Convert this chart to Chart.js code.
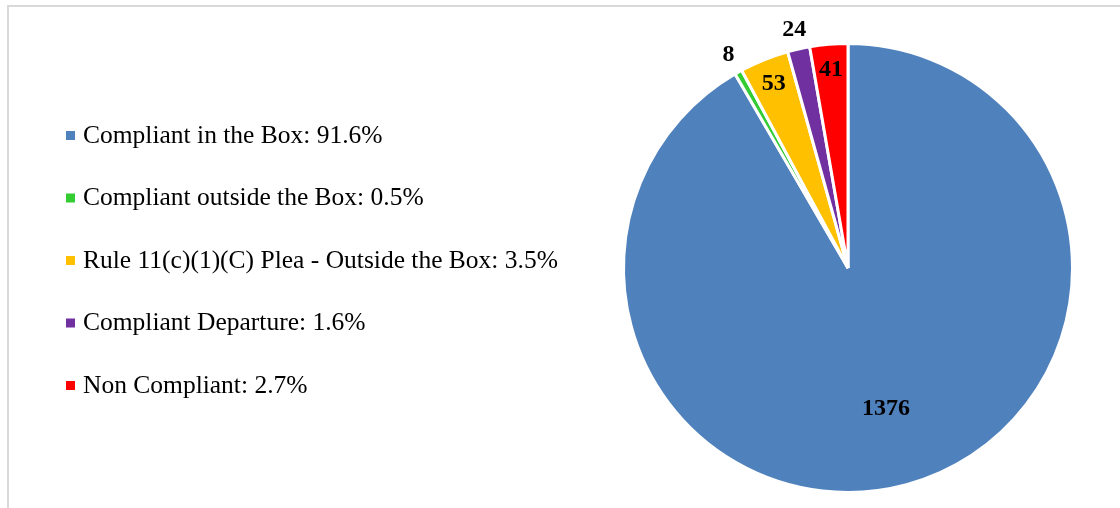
<!DOCTYPE html>
<html>
<head>
<meta charset="utf-8">
<script src="https://cdn.jsdelivr.net/npm/chart.js@4.4.1/dist/chart.umd.min.js"></script>
<style>
	body { margin: 0; background: #fff; }
	#frame { position: absolute; left: 7px; top: 5px; width: 1200px; height: 600px; border-left: 2px solid #d9d9d9; border-top: 2px solid #d9d9d9; }
	canvas { position: absolute; left: 0; top: 0; }
</style>
</head>
<body>
<div id="frame"></div>
<canvas id="grafico" width="1120" height="508"></canvas>
<script>
"use strict";

const categorie = [
	"Compliant in the Box",
	"Compliant outside the Box",
	"Rule 11(c)(1)(C) Plea - Outside the Box",
	"Compliant Departure",
	"Non Compliant"
];
const casi = [1376, 8, 53, 24, 41];
const colori = ["#4f81bd", "#33cc33", "#ffc000", "#7030a0", "#ff0000"];

const totale = casi.reduce((a, b) => a + b, 0);
const font = "'Liberation Serif', 'Times New Roman', serif";

// legenda a sinistra, quadratini + testo con la percentuale
const legendaSinistra = {
	id: "legendaSinistra",
	afterDraw(chart) {
		const ctx = chart.ctx;
		ctx.save();
		ctx.font = "25.5px " + font;
		ctx.textBaseline = "middle";
		ctx.textAlign = "left";
		for (let i = 0; i < categorie.length; i++) {
			const y = 135 + i * 62.5;
			ctx.fillStyle = colori[i];
			ctx.fillRect(66, y - 4, 9, 9);
			ctx.fillStyle = "#000";
			const perc = (casi[i] / totale * 100).toFixed(1);
			ctx.fillText(categorie[i] + ": " + perc + "%", 83, y + 1);
		}
		ctx.restore();
	}
};

// valori sulle fette: fuori se la fetta e' piccolissima
const etichette = {
	id: "etichette",
	afterDatasetsDraw(chart) {
		const ctx = chart.ctx;
		const meta = chart.getDatasetMeta(0);
		ctx.save();
		ctx.font = "bold 24px " + font;
		ctx.fillStyle = "#000";
		ctx.textAlign = "center";
		ctx.textBaseline = "middle";
		meta.data.forEach(function (arco, i) {
			const quota = casi[i] / totale;
			let r = arco.outerRadius * 0.885;
			if (quota > 0.5) r = arco.outerRadius * 0.65;
			else if (quota < 0.02) r = arco.outerRadius + 20;
			const a = (arco.startAngle + arco.endAngle) / 2;
			ctx.fillText(casi[i], arco.x + Math.cos(a) * r, arco.y + Math.sin(a) * r);
		});
		ctx.restore();
	}
};

new Chart(document.getElementById("grafico"), {
	type: "pie",
	data: {
		labels: categorie,
		datasets: [{
			data: casi,
			backgroundColor: colori,
			borderColor: "#ffffff",
			borderWidth: 3
		}]
	},
	options: {
		responsive: false,
		animation: false,
		layout: { padding: { left: 622, right: 46, top: 42, bottom: 14 } },
		plugins: {
			legend: { display: false },
			tooltip: { enabled: false }
		}
	},
	plugins: [legendaSinistra, etichette]
});
</script>
</body>
</html>
